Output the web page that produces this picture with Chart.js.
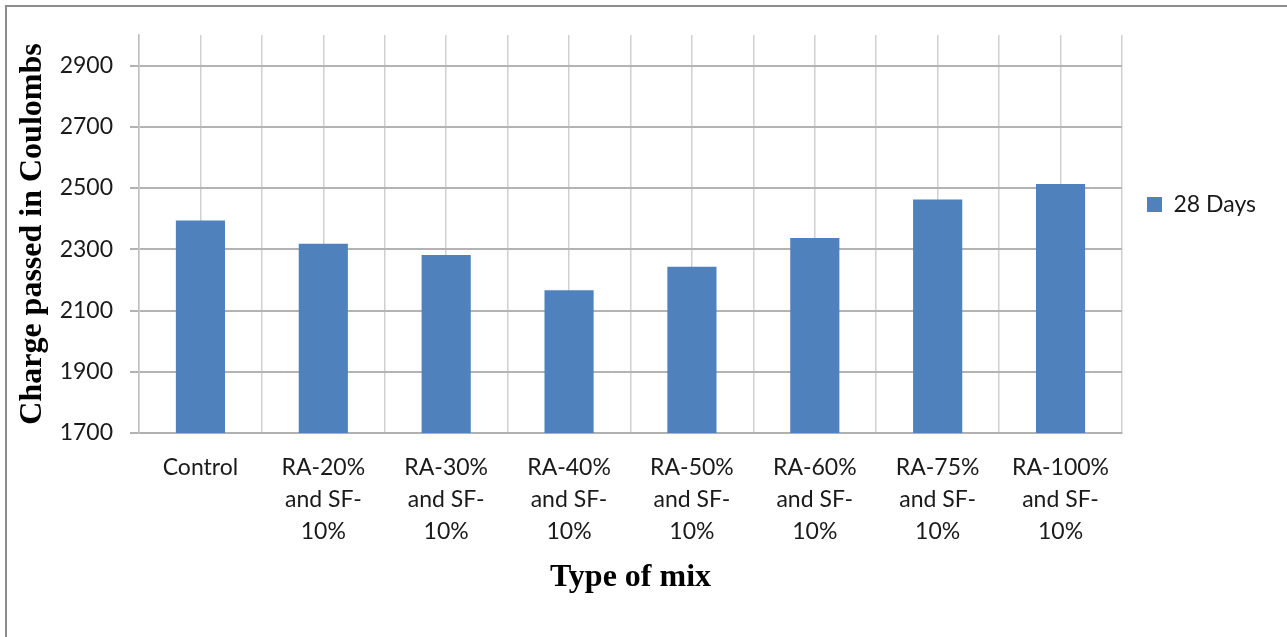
<!DOCTYPE html>
<html>
<head>
<meta charset="utf-8">
<script src="https://cdn.jsdelivr.net/npm/chart.js@4/dist/chart.umd.min.js"></script>
<style>
  html, body { margin: 0; padding: 0; background: #ffffff; width: 1287px; height: 637px; overflow: hidden; }
  #frame { position: absolute; left: 5px; top: 5px; width: 1300px; height: 700px;
           border-top: 2px solid #8c8c8c; border-left: 2px solid #8c8c8c; pointer-events: none; }
  #c { position: absolute; left: 0; top: 0; }
</style>
</head>
<body>
<canvas id="c" width="1287" height="637"></canvas>
<div id="frame"></div>
<script>
const categories = [
  "Control",
  ["RA-20%", "and SF-", "10%"],
  ["RA-30%", "and SF-", "10%"],
  ["RA-40%", "and SF-", "10%"],
  ["RA-50%", "and SF-", "10%"],
  ["RA-60%", "and SF-", "10%"],
  ["RA-75%", "and SF-", "10%"],
  ["RA-100%", "and SF-", "10%"]
];
const seriesName = "28 Days";
const days28 = [2394, 2318, 2281, 2166, 2243, 2337, 2463, 2513];
const yTickValues = [1700, 1900, 2100, 2300, 2500, 2700, 2900];
const yMin = 1700, yMax = 3000;
const yTitle = "Charge passed in Coulombs";
const xTitle = "Type of mix";

const labelFont = { family: "Lato, 'Open Sans', sans-serif", size: 23, lineHeight: '32px' };
const titleFont = { family: "'Liberation Serif', 'DejaVu Serif', serif", size: 32, weight: 'bold', lineHeight: 1.2 };

new Chart(document.getElementById('c'), {
  type: 'bar',
  data: {
    labels: categories,
    datasets: [{
      label: seriesName,
      data: days28,
      backgroundColor: '#4f81bd',
      borderWidth: 0,
      barPercentage: 0.4,
      categoryPercentage: 1.0
    }]
  },
  options: {
    responsive: false,
    animation: false,
    devicePixelRatio: 1,
    layout: { padding: { left: 10, top: 35, right: 21, bottom: 40 } },
    plugins: {
      tooltip: { enabled: false },
      legend: {
        position: 'right',
        align: 'start',
        title: { display: true, text: '', padding: { top: 132, bottom: 0 }, font: { size: 1, lineHeight: 1 } },
        labels: {
          boxWidth: 15, boxHeight: 15, padding: 25,
          color: '#1a1a1a',
          font: { family: "Lato, 'Open Sans', sans-serif", size: 23 }
        }
      }
    },
    scales: {
      x: {
        type: 'category',
        offset: true,
        grid: { offset: true, color: '#d0d0d0', lineWidth: 1.5, drawTicks: false },
        border: { display: true, color: '#b0b0b0', width: 2 },
        ticks: { color: '#1a1a1a', font: labelFont, padding: 19, maxRotation: 0, minRotation: 0, autoSkip: false },
        title: { display: true, text: xTitle, color: '#000', font: titleFont, padding: { top: 0, bottom: 0 } },
        afterFit: (s) => { s.height = 164; }
      },
      x2: {
        type: 'category',
        position: 'bottom',
        offset: true,
        grid: { offset: false, color: '#d0d0d0', lineWidth: 1.5, drawTicks: false },
        border: { display: false },
        ticks: { display: false },
        afterFit: (s) => { s.height = 0; }
      },
      y: {
        min: yMin, max: yMax,
        grid: { color: '#b3b3b3', lineWidth: 2, tickLength: 9 },
        border: { display: true, color: '#c0c0c0', width: 1.5 },
        ticks: { color: '#1a1a1a', font: labelFont, padding: 17, callback: (v) => String(v) },
        afterBuildTicks: (s) => { s.ticks = yTickValues.map(v => ({ value: v })); },
        title: { display: true, text: yTitle, color: '#000', font: titleFont, padding: { top: 4, bottom: 0 } },
        afterFit: (s) => { s.width = 129; }
      }
    }
  }
});
</script>
</body>
</html>
